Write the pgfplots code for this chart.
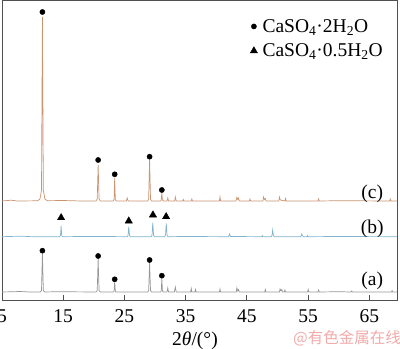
\documentclass[border=0pt]{standalone}
\usepackage{pgfplots}
\pgfplotsset{compat=1.18}
\usepackage{fontspec}
\setmainfont{Liberation Serif}
\newfontfamily\cjk{Noto Sans CJK SC}
\definecolor{cc}{RGB}{202,148,112}
\definecolor{cb}{RGB}{128,180,205}
\definecolor{ca}{RGB}{150,150,150}
\definecolor{wm}{RGB}{242,170,170}
\definecolor{ax}{RGB}{80,80,80}
\newcommand{\F}{\fontsize{19.5bp}{23bp}\selectfont}
\begin{document}
\begin{tikzpicture}[x=1bp,y=1bp]
\begin{axis}[
  at={(2bp,49bp)}, anchor=south west, scale only axis,
  width=395bp, height=299bp,
  xmin=5, xmax=69.5, ymin=0, ymax=299,
  xtick={5,15,...,65}, ytick=\empty,
  xtick pos=bottom, tick align=inside, major tick length=4.5bp,
  axis line style={draw=ax, line width=1bp},
  every tick/.style={ax, line width=1bp},
  ticklabel style={font=\F},
  /pgf/number format/assume math mode=true,
  xticklabel style={yshift=-6.5bp},
  xlabel={2\textit{θ}/(°)},
  every axis x label/.style={at={(axis description cs:0.4886,0)}, anchor=center, yshift=-40.5bp, font=\F},
  clip=false,
  legend style={draw=none, fill=none, at={(axis description cs:0.628,0.943)}, anchor=north west,
    font=\F, inner sep=0pt, row sep=8bp, column sep=4bp, nodes={inner sep=1bp}},
  legend cell align=left,
  legend image code/.code={\draw[#1] plot coordinates {(4bp,0bp)};},
]
% (c)
\addplot[cc, line width=0.7bp, forget plot] coordinates {
(5,99) (6.5,99.8) (7.5,99) (10.8,99.2) (11.2,101) (11.45,110) (11.6,283) (11.75,110) (12.0,101) (12.4,99.3)
(15,99.5) (18,99)
(20.35,99) (20.55,101) (20.7,135) (20.85,101) (21.05,99)
(23.15,99) (23.3,100.5) (23.4,122) (23.5,100.5) (23.65,99)
(25.3,99) (25.45,102) (25.6,99)
(28.8,99) (28.95,101) (29.1,140) (29.25,101) (29.4,99)
(30.9,99) (31.0,100) (31.1,107) (31.2,100) (31.35,99)
(31.95,99) (32.07,102) (32.2,99)
(33.2,99) (33.3,103) (33.45,99)
(34.5,99) (34.6,100.5) (34.7,99)
(35.9,99) (36.0,101) (36.1,99)
(40.5,99) (40.6,103) (40.7,99)
(43.2,99) (43.35,102.5) (43.5,100.5) (43.6,102) (43.75,99)
(45.4,99) (45.5,101) (45.6,99)
(47.6,99) (47.7,103) (47.85,100.5) (48.0,101.5) (48.1,99)
(50.2,99) (50.3,103) (50.45,100) (51.2,99) (51.3,101.5) (51.4,99)
(56.6,99) (56.7,101) (56.8,99)
(60,99.3)
(68.3,99) (68.4,101) (68.5,99)
(69.5,99)
};
% (b)
\addplot[cb, line width=0.7bp, forget plot] coordinates {
(5,63.3) (8,63.8) (10,63.3)
(14.4,63.3) (14.55,64.5) (14.65,74) (14.75,64.5) (14.9,63.3)
(20,63.6)
(25.45,63.3) (25.58,64.5) (25.7,73.3) (25.82,64.5) (25.95,63.3)
(29.35,63.3) (29.5,64.8) (29.62,77.3) (29.75,64.8) (29.9,63.3)
(31.55,63.3) (31.7,64.8) (31.82,76.7) (31.95,64.8) (32.1,63.3)
(35,63.5)
(42.0,63.3) (42.15,66) (42.3,63.5)
(47.4,63.3) (47.5,64.5) (47.6,63.3)
(48.95,63.3) (49.1,65) (49.2,70) (49.3,65) (49.45,63.3)
(53.8,63.3) (53.95,66) (54.05,64.5) (54.2,63.3)
(54.8,63.3) (54.9,64.5) (55,63.3)
(60,63.5)
(69.5,63.3)
};
% (a)
\addplot[ca, line width=0.7bp, forget plot] coordinates {
(5,8) (8,8.5) (9.5,8)
(11.25,8) (11.45,9.5) (11.6,46) (11.75,9.5) (11.95,8)
(14,8.3)
(20.35,8) (20.55,9.5) (20.7,41) (20.85,9.5) (21.05,8)
(23.2,8) (23.3,9) (23.4,18) (23.5,9) (23.6,8)
(28.8,8) (28.95,9.5) (29.1,37) (29.25,9.5) (29.4,8)
(30.9,8) (31.0,9) (31.1,21) (31.2,9) (31.35,8)
(31.95,8) (32.07,12) (32.2,8)
(33.15,8) (33.3,13) (33.45,8)
(35.8,8) (35.9,11.5) (36.0,8)
(36.5,8) (36.6,10.5) (36.7,8)
(40.5,8) (40.6,11) (40.7,8)
(43.25,8) (43.35,12) (43.5,9) (43.6,10.5) (43.75,8)
(47.9,8) (48.0,10.5) (48.1,8)
(50.3,8) (50.4,11) (50.55,9) (50.7,10.5) (50.8,8) (51.1,8) (51.2,10) (51.3,8)
(54.9,8) (55.0,10.5) (55.1,8)
(56.6,8) (56.7,10) (56.8,8)
(60,8.3)
(62.0,8) (62.1,9) (62.2,8)
(68.6,8) (68.7,9.5) (68.8,8)
(69.5,8)
};
% markers
\addplot[only marks, mark=*, mark size=2.6bp, black] coordinates {
(11.6,288) (20.7,140) (23.4,125.7) (29.1,143.3) (31.1,110)
};
\addlegendentry{CaSO\textsubscript{4}·2H\textsubscript{2}O}
\addplot[only marks, mark=triangle*, mark size=4.2bp, black] coordinates {
(14.65,82.3) (25.7,79) (29.65,85) (31.8,83.3)
};
\addlegendentry{CaSO\textsubscript{4}·0.5H\textsubscript{2}O}
\addplot[only marks, mark=*, mark size=2.6bp, black, forget plot] coordinates {
(11.6,49.3) (20.7,44) (23.4,20.7) (29.1,40) (31.1,24.3)
};
\node[font=\F] at (axis cs:65.45,19) {(a)};
\node[font=\F] at (axis cs:65.45,71.5) {(b)};
\node[font=\F] at (axis cs:65.45,106) {(c)};
\end{axis}
\node[text=wm, font=\cjk\fontsize{15.5bp}{18bp}\selectfont] at (347bp,11bp) {@有色金属在线};
\pgfresetboundingbox
\path (0,0) rectangle (400bp,349bp);
\end{tikzpicture}
\end{document}
